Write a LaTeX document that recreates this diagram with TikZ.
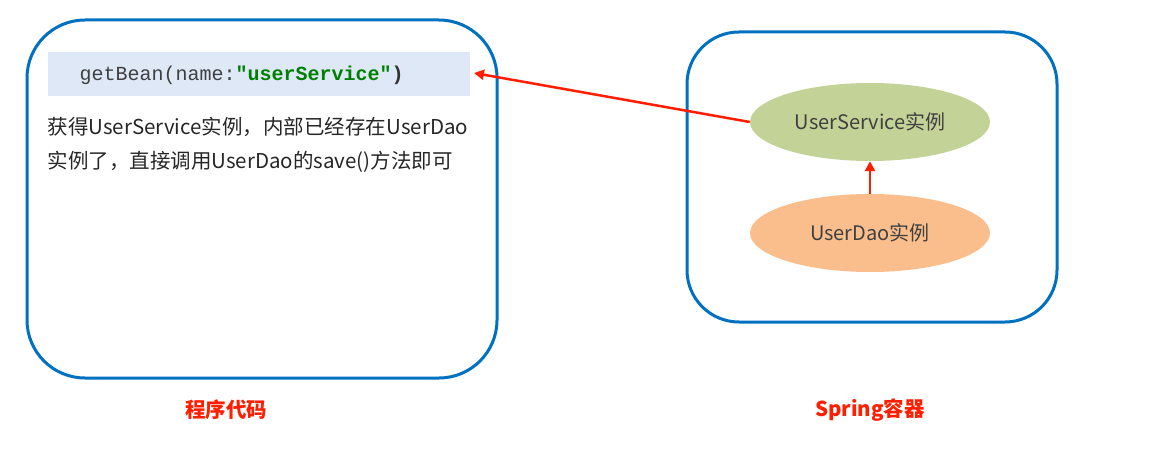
\documentclass[tikz,border=0pt]{standalone}
\usepackage{fontspec}
\setmainfont{Noto Sans CJK SC}
\setmonofont{Liberation Mono}
\usetikzlibrary{arrows.meta,shapes.geometric}
\definecolor{bl}{RGB}{0,112,192}
\definecolor{rd}{RGB}{255,30,0}
\definecolor{gr}{RGB}{195,210,150}
\definecolor{og}{RGB}{250,190,140}
\definecolor{cb}{RGB}{222,232,247}
\definecolor{gn}{RGB}{0,128,0}
\tikzset{box/.style={draw=bl,line width=3pt,rounded corners=58pt},
ell/.style={ellipse,minimum width=240pt,minimum height=78pt,font=\fontsize{20}{24}\selectfont,text=black!75},
arr/.style={draw=rd,line width=2.5pt,-{Triangle[length=10pt,width=10pt]}},
lab/.style={text=rd,font=\fontsize{20.5}{24}\selectfont\bfseries}}
\begin{document}
\begin{tikzpicture}[x=1pt,y=-1pt]
\useasboundingbox (0,0) rectangle (1169,449);
\draw[box] (27,20) rectangle (497,378);
\draw[box,rounded corners=52pt] (687,32) rectangle (1057,322);
\fill[cb] (48,52) rectangle (470,96);
\node[anchor=west,font=\ttfamily\fontsize{20}{22}\selectfont] (code) at (76,75) {\textcolor{black!75}{getBean(name:}\textcolor{gn}{\textbf{"userService"}}\textcolor{black!80}{\textbf{)}}};
\coordinate (codeR) at (474,73);
\node[anchor=west,font=\fontsize{20.5}{34}\selectfont,align=left,text=black!85] (txt) at (44,145) {获得UserService实例，内部已经存在UserDao\\实例了，直接调用UserDao的save()方法即可};
\node[ell,fill=gr] (us) at (870,122) {UserService实例};
\node[ell,fill=og] (ud) at (870,233) {UserDao实例};
\draw[arr] (ud) -- (us);
\draw[arr] (us.west) -- (codeR);
\node[lab] (l1) at (226,410) {程序代码};
\node[lab] (l2) at (870,410) {Spring容器};
\end{tikzpicture}
\end{document}
